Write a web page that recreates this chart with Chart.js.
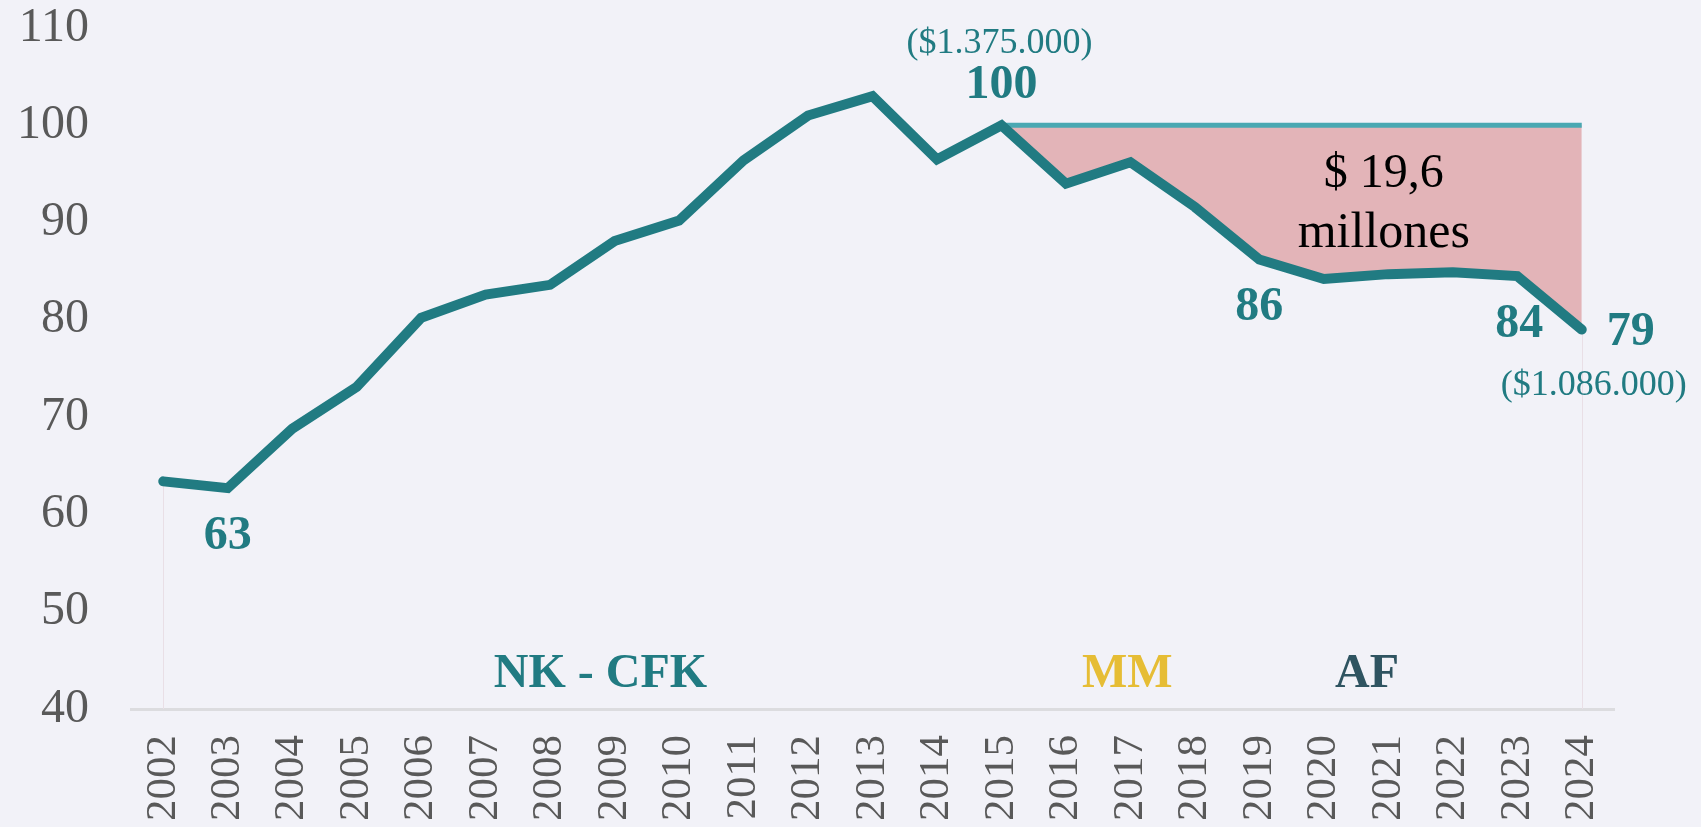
<!DOCTYPE html>
<html>
<head>
<meta charset="utf-8">
<script src="https://cdn.jsdelivr.net/npm/chart.js@4.4.1/dist/chart.umd.min.js"></script>
<style>
    html, body { margin: 0; padding: 0; background: #f2f2f8; }
    canvas { display: block; }
</style>
</head>
<body>
<canvas id="chartSalario" width="1701" height="827"></canvas>
<script>
// Datos (índice, 2015 = 100)
const years = ["2002", "2003", "2004", "2005", "2006", "2007", "2008", "2009", "2010", "2011", "2012", "2013",
    "2014", "2015", "2016", "2017", "2018", "2019", "2020", "2021", "2022", "2023", "2024"];
const indice = [63.4, 62.7, 68.8, 73.1, 80.2, 82.6, 83.6, 88.1, 90.2, 96.4, 101.0, 103.0,
    96.5, 100, 94.0, 96.2, 91.6, 86.2, 84.2, 84.7, 84.9, 84.5, 79.0];
const base2015 = [null, null, null, null, null, null, null, null, null, null, null, null,
    null, 100, 100, 100, 100, 100, 100, 100, 100, 100, 100];
const yTicks = [40, 50, 60, 70, 80, 90, 100, 110];

const TEAL = "#217b82";
const SERIF = "'Liberation Serif', 'Times New Roman', serif";

// Etiquetas: punto de referencia + desplazamiento en px
const etiquetas = [
    { i: 1, text: "63", bold: true, dx: 0, dy: 61 },
    { i: 13, text: "100", bold: true, dx: 0, dy: -27 },
    { i: 13, text: "($1.375.000)", bold: false, dx: -2, dy: -72, size: 36 },
    { i: 17, text: "86", bold: true, dx: 0, dy: 60 },
    { i: 21, text: "84", bold: true, dx: 2, dy: 61 },
    { i: 22, text: "79", bold: true, dx: 49, dy: 15 },
    { i: 22, text: "($1.086.000)", bold: false, dx: 12, dy: 65, size: 36 },
];

// Textos ubicados en coordenadas de datos
const textosLibres = [
    { x: 18.93, y: 93.7, text: "$ 19,6", color: "#000", bold: false, size: 48 },
    { x: 18.93, y: 87.5, text: "millones", color: "#000", bold: false, size: 50 },
    { x: 6.78, y: 42.3, text: "NK - CFK", color: TEAL, bold: true, size: 48 },
    { x: 14.95, y: 42.3, text: "MM", color: "#e6bd35", bold: true, size: 48 },
    { x: 18.67, y: 42.3, text: "AF", color: "#2f5461", bold: true, size: 48 },
];

const lineasVerticales = {
    id: "lineasVerticales",
    beforeDatasetsDraw(chart) {
        const { ctx, scales } = chart;
        ctx.save();
        ctx.strokeStyle = "#e9dfe6";
        ctx.lineWidth = 1;
        [0, indice.length - 1].forEach((i) => {
            const x = Math.round(scales.x.getPixelForValue(i)) + 0.5;
            ctx.beginPath();
            ctx.moveTo(x, scales.y.getPixelForValue(indice[i]));
            ctx.lineTo(x, scales.y.getPixelForValue(40));
            ctx.stroke();
        });
        ctx.restore();
    },
};

const anotaciones = {
    id: "anotaciones",
    afterDatasetsDraw(chart) {
        const { ctx, scales } = chart;
        ctx.save();
        ctx.textAlign = "center";
        ctx.textBaseline = "alphabetic";
        etiquetas.forEach((e) => {
            const x = scales.x.getPixelForValue(e.i) + e.dx;
            const y = scales.y.getPixelForValue(indice[e.i]) + e.dy;
            ctx.font = (e.bold ? "bold " : "") + (e.size || 48) + "px " + SERIF;
            ctx.fillStyle = TEAL;
            ctx.fillText(e.text, x, y);
        });
        textosLibres.forEach((t) => {
            ctx.font = (t.bold ? "bold " : "") + t.size + "px " + SERIF;
            ctx.fillStyle = t.color;
            ctx.fillText(t.text, scales.x.getPixelForValue(t.x), scales.y.getPixelForValue(t.y));
        });
        ctx.restore();
    },
};

new Chart(document.getElementById("chartSalario"), {
    type: "line",
    data: {
        labels: years,
        datasets: [
            {
                label: "Índice",
                data: indice,
                borderColor: TEAL,
                borderWidth: 10,
                borderCapStyle: "round",
                pointRadius: 0,
                tension: 0,
                fill: false,
                order: 0,
            },
            {
                label: "Nivel 2015",
                data: base2015,
                borderColor: "#4aa8b2",
                borderWidth: 5,
                pointRadius: 0,
                tension: 0,
                fill: { target: 0 },
                backgroundColor: "#e3b4b8",
                order: 1,
            },
        ],
    },
    options: {
        responsive: false,
        animation: false,
        layout: { padding: { top: 0, left: 0, right: 87, bottom: 0 } },
        plugins: {
            legend: { display: false },
            tooltip: { enabled: false },
        },
        scales: {
            x: {
                offset: true,
                grid: { display: false, drawTicks: false },
                border: { display: true, color: "#dcdcdf", width: 3 },
                ticks: {
                    color: "#595959",
                    font: { family: SERIF, size: 43 },
                    minRotation: 90,
                    maxRotation: 90,
                    padding: 26,
                    autoSkip: false,
                },
                afterFit(scale) {
                    scale.height = 118;
                    scale.paddingLeft = 0;
                    scale.paddingRight = 0;
                },
            },
            y: {
                min: 40,
                max: 110,
                afterBuildTicks(scale) {
                    scale.ticks = yTicks.map((v) => ({ value: v }));
                },
                grid: { display: false, drawTicks: false },
                border: { display: false },
                ticks: {
                    color: "#595959",
                    font: { family: SERIF, size: 48 },
                    padding: 42,
                },
                afterFit(scale) {
                    scale.width = 131;
                    scale.paddingTop = 28;
                    scale.paddingBottom = 0;
                },
            },
        },
    },
    plugins: [lineasVerticales, anotaciones],
});
</script>
</body>
</html>
